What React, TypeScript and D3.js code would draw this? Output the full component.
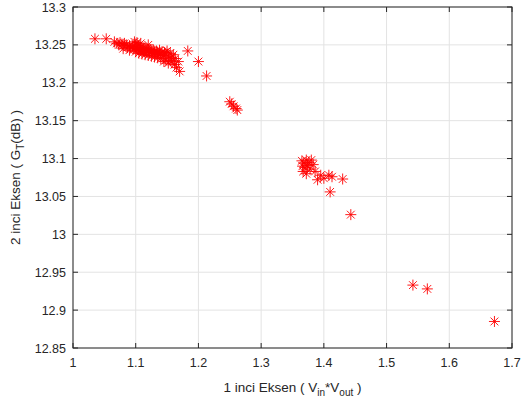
import React from "react";
import * as d3 from "d3";

const xTicks = [1, 1.1, 1.2, 1.3, 1.4, 1.5, 1.6, 1.7];
const yTicks = [12.85, 12.9, 12.95, 13, 13.05, 13.1, 13.15, 13.2, 13.25, 13.3];
const xTickLabels = ["1", "1.1", "1.2", "1.3", "1.4", "1.5", "1.6", "1.7"];
const yTickLabels = ["12.85", "12.9", "12.95", "13", "13.05", "13.1", "13.15", "13.2", "13.25", "13.3"];

const xVals = [
  1.035, 1.053, 1.066, 1.07, 1.073, 1.075, 1.078, 1.08, 1.082, 1.085, 1.087, 1.09, 1.092, 1.095, 1.097,
  1.1, 1.1, 1.102, 1.104, 1.105, 1.107, 1.108, 1.11, 1.112, 1.113, 1.115, 1.117, 1.118, 1.12, 1.122,
  1.123, 1.125, 1.127, 1.128, 1.13, 1.132, 1.133, 1.135, 1.137, 1.138, 1.14, 1.142, 1.144, 1.146, 1.148,
  1.15, 1.152, 1.155, 1.157, 1.16, 1.145, 1.152, 1.158, 1.162, 1.165, 1.17, 1.163, 1.168, 1.183, 1.2,
  1.213, 1.102, 1.12,
  1.08, 1.09, 1.1, 1.105, 1.11, 1.115, 1.12, 1.125, 1.13, 1.135, 1.14, 1.148, 1.155, 1.098, 1.108,
  1.25, 1.253, 1.256, 1.26, 1.262,
  1.365, 1.368, 1.372, 1.376, 1.38, 1.366, 1.37, 1.374, 1.378, 1.367, 1.372, 1.383, 1.386, 1.39, 1.395,
  1.4, 1.408, 1.41, 1.413, 1.43, 1.443,
  1.542, 1.565, 1.672,
];
const yVals = [
  13.258, 13.258, 13.254, 13.252, 13.25, 13.253, 13.251, 13.249, 13.252, 13.25, 13.247, 13.249, 13.246, 13.248, 13.245,
  13.251, 13.247, 13.244, 13.249, 13.246, 13.243, 13.247, 13.245, 13.242, 13.246, 13.244, 13.241, 13.245, 13.243, 13.24,
  13.244, 13.242, 13.239, 13.243, 13.241, 13.238, 13.242, 13.24, 13.237, 13.243, 13.239, 13.241, 13.236, 13.24, 13.238,
  13.242, 13.235, 13.239, 13.233, 13.237, 13.228, 13.226, 13.229, 13.224, 13.22, 13.215, 13.232, 13.228, 13.242, 13.228,
  13.209, 13.253, 13.25,
  13.245, 13.243, 13.241, 13.239, 13.238, 13.237, 13.236, 13.235, 13.234, 13.233, 13.232, 13.23, 13.229, 13.254, 13.252,
  13.175, 13.172, 13.169, 13.166, 13.164,
  13.097, 13.094, 13.098, 13.095, 13.098, 13.09, 13.088, 13.091, 13.086, 13.083, 13.08, 13.092, 13.083, 13.072, 13.078,
  13.074, 13.078, 13.056, 13.076, 13.073, 13.026,
  12.933, 12.928, 12.885,
];

const W = 521;
const H = 402;
const margin = { left: 73, right: 9, top: 7, bottom: 54 };
const FONT = "'Liberation Sans', Arial, Helvetica, sans-serif";
const AXIS = "#262626";
const GRID = "#e3e3e3";
const RED = "#ff0000";

export default function App() {
  const x = d3.scaleLinear().domain([1, 1.7]).range([margin.left, W - margin.right]);
  const y = d3.scaleLinear().domain([12.85, 13.3]).range([H - margin.bottom, margin.top]);
  const x0 = x.range()[0], x1 = x.range()[1];
  const y0 = y.range()[0], y1 = y.range()[1];
  const tl = 5;
  const r = 5.5;
  const star = (cx: number, cy: number) => {
    const d = r * Math.SQRT1_2;
    return `M${cx - r},${cy}L${cx + r},${cy}M${cx},${cy - r}L${cx},${cy + r}M${cx - d},${cy - d}L${cx + d},${cy + d}M${cx - d},${cy + d}L${cx + d},${cy - d}`;
  };
  return (
    <svg width={W} height={H} style={{ position: "absolute", left: 0, top: 0, background: "#fff" }} fontFamily={FONT}>
      <rect x={0} y={0} width={W} height={H} fill="#fff" />
      {xTicks.map((t) => (
        <line key={"gx" + t} x1={x(t)} x2={x(t)} y1={y0} y2={y1} stroke={GRID} strokeWidth={1} />
      ))}
      {yTicks.map((t) => (
        <line key={"gy" + t} x1={x0} x2={x1} y1={y(t)} y2={y(t)} stroke={GRID} strokeWidth={1} />
      ))}
      <g fill="none" stroke={RED} strokeWidth={0.9}>
        {xVals.map((v, i) => (
          <path key={"p" + i} d={star(x(v), y(yVals[i]))} />
        ))}
      </g>
      <rect x={x0} y={y1} width={x1 - x0} height={y0 - y1} fill="none" stroke={AXIS} strokeWidth={1} />
      {xTicks.map((t) => (
        <g key={"tx" + t} stroke={AXIS}>
          <line x1={x(t)} x2={x(t)} y1={y0} y2={y0 - tl} />
          <line x1={x(t)} x2={x(t)} y1={y1} y2={y1 + tl} />
        </g>
      ))}
      {yTicks.map((t) => (
        <g key={"ty" + t} stroke={AXIS}>
          <line x1={x0} x2={x0 + tl} y1={y(t)} y2={y(t)} />
          <line x1={x1} x2={x1 - tl} y1={y(t)} y2={y(t)} />
        </g>
      ))}
      {xTicks.map((t, i) => (
        <text key={"lx" + t} x={x(t)} y={y0 + 19} textAnchor="middle" fontSize={12.5} fill={AXIS}>
          {xTickLabels[i]}
        </text>
      ))}
      {yTicks.map((t, i) => (
        <text key={"ly" + t} x={x0 - 7} y={y(t) + 4.5} textAnchor="end" fontSize={12.5} fill={AXIS}>
          {yTickLabels[i]}
        </text>
      ))}
      <text x={(x0 + x1) / 2} y={392} textAnchor="middle" fontSize={13.5} fill={AXIS}>
        1 inci Eksen ( V
        <tspan fontSize={10} dy={4}>in</tspan>
        <tspan dy={-4}>*V</tspan>
        <tspan fontSize={10} dy={4}>out</tspan>
        <tspan dy={-4}> )</tspan>
      </text>
      <text
        transform={`translate(20,${(y0 + y1) / 2}) rotate(-90)`}
        textAnchor="middle"
        fontSize={13.5}
        fill={AXIS}
      >
        2 inci Eksen ( G
        <tspan fontSize={10} dy={4}>T</tspan>
        <tspan dy={-4}>(dB) )</tspan>
      </text>
    </svg>
  );
}
